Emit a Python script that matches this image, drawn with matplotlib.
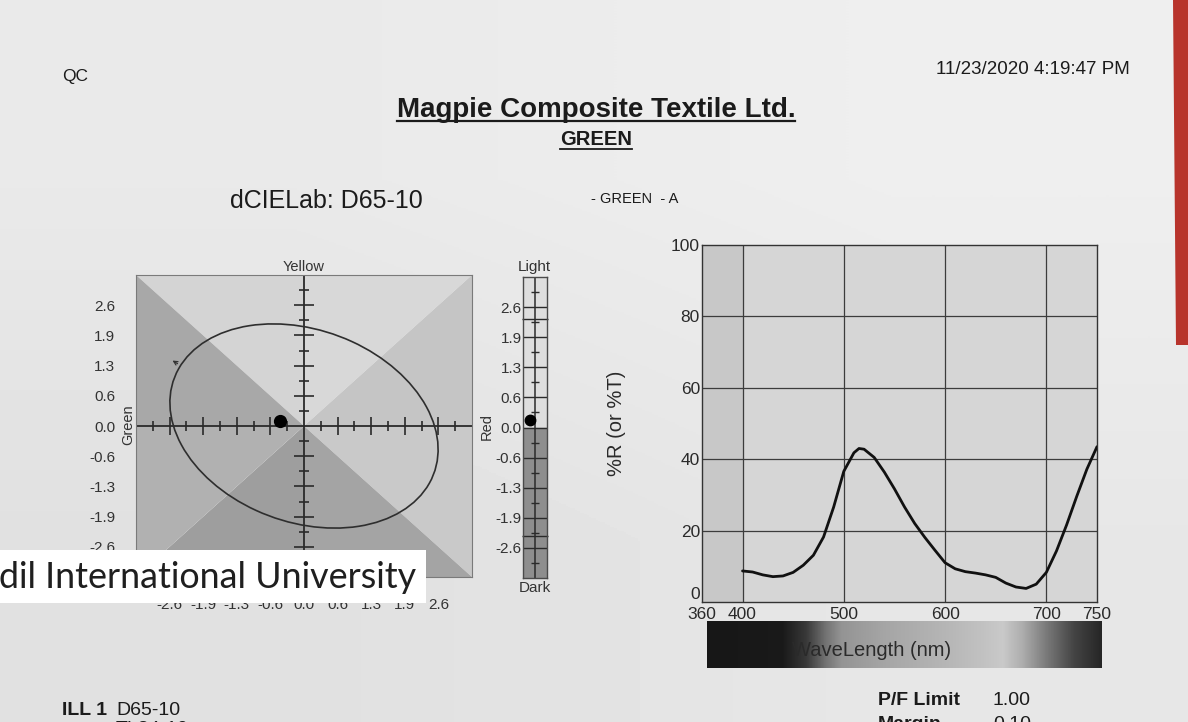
import numpy as np
import matplotlib
matplotlib.use("Agg")
import matplotlib.pyplot as plt
from matplotlib.patches import Ellipse, Polygon, Rectangle
from matplotlib.colors import LinearSegmentedColormap
from matplotlib.lines import Line2D

W, H, DPI = 1188, 722, 100
plt.rcParams['font.family'] = ['Liberation Sans', 'DejaVu Sans']

# ---------------- data ----------------
ab_tick_values = [-2.6, -1.95, -1.3, -0.65, 0.0, 0.65, 1.3, 1.95, 2.6]
ab_tick_labels = ["-2.6", "-1.9", "-1.3", "-0.6", "0.0", "0.6", "1.3", "1.9", "2.6"]
ab_limit = 3.25
ab_minor_step = 0.325
ellipse_a = 2.72
ellipse_b = 2.04
ellipse_angle = -27.0
sample_da = -0.46
sample_db = 0.10
sample_dL = 0.17
lightness_limits = [-2.34, 2.34]

wavelength_nm = [400, 410, 420, 430, 440, 450, 460, 470, 480, 490, 500, 510, 515,
                 520, 530, 540, 550, 560, 570, 580, 590, 600, 610, 620, 630,
                 640, 650, 660, 670, 680, 690, 700, 710, 720, 730, 740, 750]
reflectance_pct = [8.7, 8.4, 7.6, 7.1, 7.3, 8.3, 10.3, 13.1, 18.2, 26.6, 36.6, 41.8, 43.0,
                   42.8, 40.5, 36.4, 31.7, 26.6, 22.0, 18.1, 14.5, 11.0, 9.3, 8.5, 8.1,
                   7.6, 6.9, 5.3, 4.2, 3.8, 5.0, 8.3, 14.3, 21.6, 29.6, 37.2, 43.5]
spec_xticks = [360, 400, 500, 600, 700, 750]
spec_yticks = [0, 20, 40, 60, 80, 100]
spec_grid_x = [400, 500, 600, 700]
spec_grid_y = [20, 40, 60, 80]

fig = plt.figure(figsize=(W / DPI, H / DPI), dpi=DPI)


def fx(x):
    return x / W


def fy(y):
    return 1 - y / H


def add_axes_px(x0, y0, x1, y1):
    return fig.add_axes([x0 / W, 1 - y1 / H, (x1 - x0) / W, (y1 - y0) / H])


# ---------------- paper background ----------------
bg = add_axes_px(0, 0, W, H)
bg.set_axis_off()
bg.imshow([[0.915, 0.935], [0.88, 0.905]], cmap='gray', vmin=0, vmax=1,
          interpolation='bilinear', extent=[0, W, H, 0], aspect='auto')
bg.add_patch(Polygon([[1173, 0], [W, 0], [W, 345], [1176, 345]], closed=True,
                     facecolor='#b8342c', edgecolor='none'))
bg.set_xlim(0, W)
bg.set_ylim(H, 0)

TXT = '#1b1b1b'

# ---------------- header texts ----------------
fig.text(fx(62), fy(81), 'QC', fontsize=12.5, color=TXT, va='baseline')
fig.text(fx(1130), fy(74), '11/23/2020 4:19:47 PM', fontsize=13.5, color=TXT,
         va='baseline', ha='right')
t_title = fig.text(fx(596), fy(117), 'Magpie Composite Textile Ltd.', fontsize=20,
                   fontweight='bold', color=TXT, va='baseline', ha='center')
t_green = fig.text(fx(596), fy(145), 'GREEN', fontsize=14.5, fontweight='bold',
                   color=TXT, va='baseline', ha='center')
fig.text(fx(230), fy(208), 'dCIELab: D65-10', fontsize=18, color=TXT, va='baseline')
fig.text(fx(591), fy(203), '- GREEN  - A', fontsize=10.5, color=TXT, va='baseline')

# ---------------- a*b* plot ----------------
ax = add_axes_px(136, 275, 472, 577)
L = ab_limit
ax.set_xlim(-L, L)
ax.set_ylim(-L, L)
O = (0, 0)
TL, TM, TR = (-L, L), (0, L), (L, L)
RM, BR, BM = (L, 0), (L, -L), (0, -L)
BL, LM = (-L, -L), (-L, 0)
octants = [((O, TL, TM), '#d4d4d4'), ((O, TM, TR), '#d8d8d8'),
           ((O, TR, RM), '#c5c5c5'), ((O, RM, BR), '#c9c9c9'),
           ((O, BR, BM), '#a4a4a4'), ((O, BM, BL), '#9e9e9e'),
           ((O, BL, LM), '#b1b1b1'), ((O, LM, TL), '#a8a8a8')]
for pts, c in octants:
    ax.add_patch(Polygon(pts, closed=True, facecolor=c, edgecolor='none', zorder=0))

ax.axhline(0, color='#2a2a2a', lw=1.3, zorder=2)
ax.axvline(0, color='#2a2a2a', lw=1.3, zorder=2)
ks = [k for k in range(-9, 10) if k != 0]
for k in ks:
    p = k * ab_minor_step
    long_tick = (k % 2 == 0)
    hw = 0.19 if long_tick else 0.10
    ax.hlines(p, -hw, hw, color='#2a2a2a', lw=1.2, zorder=2)
    ax.vlines(p, -hw, hw, color='#2a2a2a', lw=1.2, zorder=2)

ax.add_patch(Ellipse((0, 0), 2 * ellipse_a, 2 * ellipse_b, angle=ellipse_angle,
                     fill=False, edgecolor='#2e2e2e', lw=1.2, zorder=3))
ax.annotate('', xy=(-2.59, 1.44), xytext=(-2.40, 1.31),
            arrowprops=dict(arrowstyle='->', color='#333333', lw=0.9,
                            mutation_scale=7), zorder=3)
ax.plot([sample_da], [sample_db], 'o', color='black', ms=8.5, zorder=4)

for s in ax.spines.values():
    s.set_color('#7a7a7a')
    s.set_linewidth(0.8)
ax.set_yticks(ab_tick_values, ab_tick_labels)
ax.set_xticks(ab_tick_values, ab_tick_labels)
ax.tick_params(axis='y', length=0, pad=15, labelsize=11, labelcolor='#333333')
ax.tick_params(axis='x', length=0, pad=15, labelsize=11, labelcolor='#333333')

fig.text(fx(304), fy(267), 'Yellow', fontsize=10.5, color='#333333', ha='center', va='center')
fig.text(fx(128), fy(425), 'Green', fontsize=10.5, color='#333333', ha='center',
         va='center', rotation=90)
fig.text(fx(487), fy(427), 'Red', fontsize=10.5, color='#333333', ha='center',
         va='center', rotation=90)

# ---------------- lightness bar ----------------
axL = add_axes_px(523, 277, 547, 578)
axL.set_xlim(-1, 1)
axL.set_ylim(-L, L)
axL.axhspan(0, L, color='#dedede', zorder=0)
axL.axhspan(-L, 0, color='#8e8e8e', zorder=0)
axL.axvline(0, color='#2a2a2a', lw=1.1, zorder=2)
axL.hlines(ab_tick_values, -1, 1, color='#2a2a2a', lw=1.0, zorder=2)
for k in ks:
    if k % 2 != 0:
        axL.hlines(k * ab_minor_step, -0.33, 0.33, color='#2a2a2a', lw=1.0, zorder=2)
axL.hlines(lightness_limits, -1.12, 1.12, color='#2a2a2a', lw=1.0, zorder=2, clip_on=False)
axL.plot([-0.42], [sample_dL], 'o', color='black', ms=7.5, zorder=4, clip_on=False)
for s in axL.spines.values():
    s.set_color('#4a4a4a')
    s.set_linewidth(1.0)
axL.set_xticks([])
axL.set_yticks(ab_tick_values, ab_tick_labels)
axL.tick_params(axis='y', length=0, pad=1, labelsize=11, labelcolor='#333333')
fig.text(fx(534), fy(267), 'Light', fontsize=11, color='#333333', ha='center', va='center')
fig.text(fx(535), fy(588), 'Dark', fontsize=11, color='#333333', ha='center', va='center')

# ---------------- spectral plot ----------------
axS = add_axes_px(702, 245, 1097, 602)
axS.set_facecolor('#d6d6d6')
axS.set_xlim(360, 750)
axS.set_ylim(0, 100)
axS.axvspan(360, 400, color='#c8c8c8', zorder=0)
for gx in spec_grid_x:
    axS.axvline(gx, color='#3c3c3c', lw=0.9, zorder=1)
for gy in spec_grid_y:
    axS.axhline(gy, color='#3c3c3c', lw=0.9, zorder=1)
axS.plot(wavelength_nm, reflectance_pct, color='#111111', lw=2.0, zorder=3,
         solid_joinstyle='round', solid_capstyle='round')
for s in axS.spines.values():
    s.set_color('#333333')
    s.set_linewidth(1.0)
axS.set_xticks(spec_xticks)
axS.set_yticks(spec_yticks)
axS.tick_params(axis='both', length=0, labelsize=12.5, labelcolor='#2a2a2a')
axS.tick_params(axis='y', pad=1.5)
axS.tick_params(axis='x', pad=3.5)
axS.get_yticklabels()[0].set_verticalalignment('bottom')
fig.text(fx(617), fy(423), '%R (or %T)', fontsize=14.5, color='#2a2a2a', ha='center',
         va='center', rotation=90)

# wavelength gradient bar
axW = add_axes_px(707, 621, 1102, 668)
stops = [(0.0, 0.09), (0.19, 0.10), (0.25, 0.22), (0.30, 0.45), (0.34, 0.58),
         (0.45, 0.65), (0.55, 0.69), (0.62, 0.72), (0.70, 0.76), (0.75, 0.79),
         (0.80, 0.68), (0.86, 0.48), (0.93, 0.27), (1.0, 0.15)]
cmap = LinearSegmentedColormap.from_list('wl', [(p, (g, g, g)) for p, g in stops])
axW.imshow(np.linspace(0, 1, 512)[None, :], cmap=cmap, aspect='auto',
           extent=[0, 1, 0, 1], interpolation='bilinear')
axW.set_axis_off()
fig.text(fx(872), fy(651), 'WaveLength (nm)', fontsize=14.5, color='#2a2a2a',
         ha='center', va='center')

# ---------------- footer texts ----------------
fig.text(fx(62), fy(715), 'ILL 1', fontsize=14, fontweight='bold', color=TXT, va='baseline')
fig.text(fx(116), fy(715), 'D65-10', fontsize=14, color=TXT, va='baseline')
fig.text(fx(116), fy(734), 'TL84-10', fontsize=14, color=TXT, va='baseline')
fig.text(fx(878), fy(705), 'P/F Limit', fontsize=14, fontweight='bold', color=TXT, va='baseline')
fig.text(fx(993), fy(705), '1.00', fontsize=14, color=TXT, va='baseline')
fig.text(fx(878), fy(729), 'Margin', fontsize=14, fontweight='bold', color=TXT, va='baseline')
fig.text(fx(993), fy(729), '0.10', fontsize=14, color=TXT, va='baseline')

# ---------------- watermark ----------------
fig.add_artist(Rectangle((0, fy(603)), 426 / W, 53 / H, transform=fig.transFigure,
                         facecolor='white', edgecolor='none', zorder=10))
t_wm = fig.text(fx(-1), fy(588), 'dil International University', fontsize=22,
                family=['Lato', 'DejaVu Sans'], color='#1f1f1f', va='baseline',
                zorder=11)

# ---------------- fit & underline ----------------
fig.canvas.draw()
r = fig.canvas.get_renderer()
bb = t_wm.get_window_extent(r)
t_wm.set_fontsize(22 * 417.0 / bb.width)

for t, ypx, lw in [(t_title, 121, 1.6), (t_green, 148.5, 1.3)]:
    b = t.get_window_extent(r)
    fig.add_artist(Line2D([b.x0 / W, b.x1 / W], [fy(ypx), fy(ypx)],
                          transform=fig.transFigure, color=TXT, lw=lw))

fig.savefig('out.png', dpi=DPI)
